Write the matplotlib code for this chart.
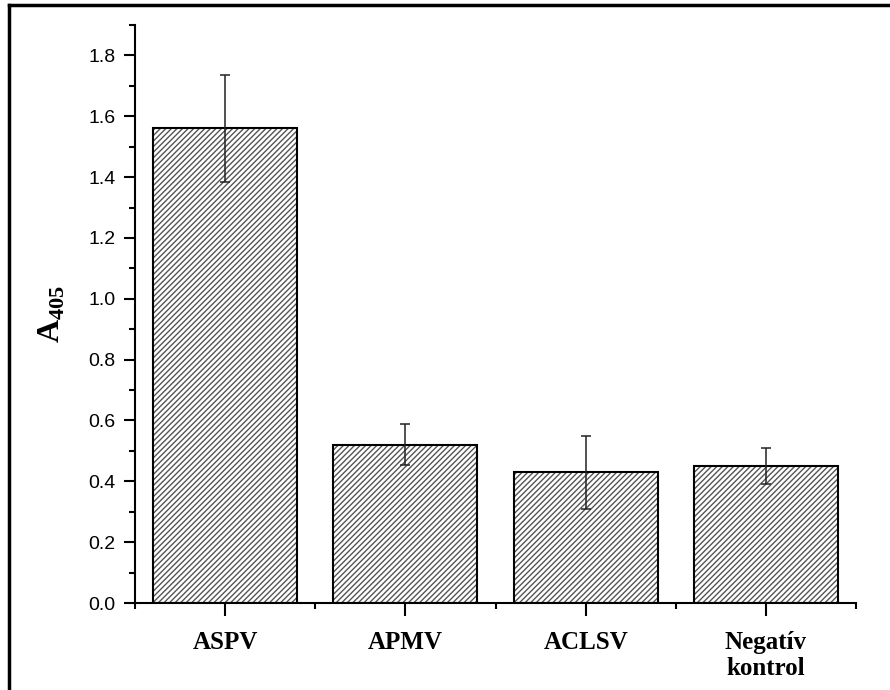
import matplotlib
matplotlib.use("Agg")
import matplotlib.pyplot as plt
from matplotlib.ticker import MultipleLocator
from matplotlib.lines import Line2D

categories = ["ASPV", "APMV", "ACLSV", "Negatív\nkontrol"]
values = [1.56, 0.52, 0.43, 0.45]
errors = [0.175, 0.067, 0.12, 0.058]
yticks = [0.0, 0.2, 0.4, 0.6, 0.8, 1.0, 1.2, 1.4, 1.6, 1.8]

plt.rcParams['mathtext.fontset'] = 'custom'
plt.rcParams['mathtext.bf'] = 'Liberation Serif:bold'
plt.rcParams['mathtext.rm'] = 'Liberation Serif'
plt.rcParams['hatch.linewidth'] = 1.0

fig = plt.figure(figsize=(8.9, 6.9), dpi=100)
ax = fig.add_axes([135/890, 87/690, (856-135)/890, (603-25)/690])

x = list(range(1, len(categories) + 1))
ax.bar(x, values, width=0.8, color='white', edgecolor='#555555', hatch='//////', linewidth=0, zorder=2)
ax.bar(x, values, width=0.8, fill=False, edgecolor='black', linewidth=1.5, zorder=3)
ax.errorbar(x, values, yerr=errors, fmt='none', ecolor='#222222', elinewidth=1.1, capsize=3.5, capthick=1.1, zorder=4)

ax.set_xlim(0.5, 4.5)
ax.set_ylim(0, 1.9)
ax.set_yticks(yticks)
ax.set_yticklabels([f"{v:.1f}" for v in yticks], fontsize=14, family='Liberation Sans')
ax.yaxis.set_minor_locator(MultipleLocator(0.1))
ax.set_xticks(x)
ax.set_xticklabels(categories, fontsize=18, family='Liberation Serif', fontweight='bold', linespacing=1.2)
ax.set_xticks([0.5, 1.5, 2.5, 3.5, 4.5], minor=True)

ax.tick_params(axis='y', which='major', direction='out', length=8, width=1.5, pad=6)
ax.tick_params(axis='y', which='minor', direction='out', length=4.5, width=1.5)
ax.tick_params(axis='x', which='major', direction='out', length=9, width=1.5, pad=11)
ax.tick_params(axis='x', which='minor', direction='out', length=4, width=1.5)

for s in ['top', 'right']:
    ax.spines[s].set_visible(False)
for s in ['left', 'bottom']:
    ax.spines[s].set_linewidth(1.5)

ax.set_ylabel(r'$\mathbf{A}_{\mathbf{405}}$', fontsize=23, labelpad=15)

fx = 9/890
fy = 1 - 5/690
fig.add_artist(Line2D([fx, 1.01], [fy, fy], transform=fig.transFigure, color='black', linewidth=2.5))
fig.add_artist(Line2D([fx, fx], [fy, -0.01], transform=fig.transFigure, color='black', linewidth=2.5))

fig.savefig("out.png", dpi=100)
